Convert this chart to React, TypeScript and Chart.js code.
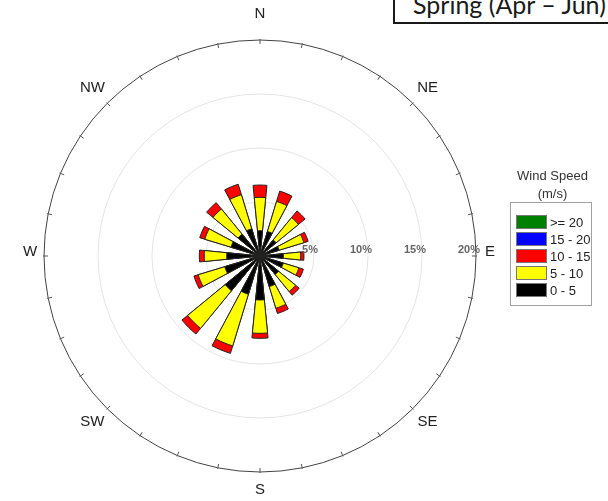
import React, { useEffect, useRef } from 'react';
import { Chart, registerables } from 'chart.js';

Chart.register(...registerables);

const directions = ['N', 'NNE', 'NE', 'ENE', 'E', 'ESE', 'SE', 'SSE', 'S', 'SSW', 'SW', 'WSW', 'W', 'WNW', 'NW', 'NNW'];
const speed0to5 = [2.34, 2.38, 1.93, 1.85, 2.16, 2.26, 2.22, 2.96, 4.07, 3.7, 4.17, 3.41, 3.08, 2.81, 2.62, 2.64];
const speed5to10 = [3.09, 2.9, 2.67, 2.39, 1.61, 1.5, 2.04, 2.1, 3.09, 5.0, 4.5, 2.57, 2.08, 2.53, 3.01, 3.29];
const speed10to15 = [1.14, 1.0, 0.8, 0.42, 0.3, 0.44, 0.43, 0.5, 0.46, 0.72, 0.68, 0.41, 0.46, 0.49, 0.76, 1.01];
const speed15to20 = [0, 0, 0, 0, 0, 0, 0, 0, 0, 0, 0, 0, 0, 0, 0, 0];
const speed20plus = [0, 0, 0, 0, 0, 0, 0, 0, 0, 0, 0, 0, 0, 0, 0, 0];
const speedBins = ['0 - 5', '5 - 10', '10 - 15', '15 - 20', '>= 20'];
const binColors = ['#000000', '#ffff00', '#ff0000', '#0000ff', '#008000'];
const ringTicks = [5, 10, 15, 20];
const compassLabels = ['N', 'NE', 'E', 'SE', 'S', 'SW', 'W', 'NW'];

const FONT = "'Liberation Sans', Arial, sans-serif";

const compassPlugin = {
  id: 'compass',
  afterDraw(chart: any) {
    const s = chart.scales.r;
    const ctx = chart.ctx;
    const cx = s.xCenter;
    const cy = s.yCenter;
    const R = s.getDistanceFromCenterForValue(ringTicks[ringTicks.length - 1]);
    ctx.save();
    // ticks on outer circle
    ctx.strokeStyle = '#555';
    ctx.lineWidth = 1;
    for (let i = 0; i < 32; i++) {
      const a = (i * 11.25 * Math.PI) / 180;
      const sx = Math.sin(a);
      const sy = -Math.cos(a);
      ctx.beginPath();
      ctx.moveTo(cx + sx * (R - 4), cy + sy * (R - 4));
      ctx.lineTo(cx + sx * (R + 1), cy + sy * (R + 1));
      ctx.stroke();
    }
    // compass labels
    ctx.fillStyle = '#222';
    ctx.font = `15px ${FONT}`;
    ctx.textAlign = 'center';
    ctx.textBaseline = 'middle';
    compassLabels.forEach((lab, i) => {
      const a = (i * 45 * Math.PI) / 180;
      const diag = i % 2 === 1;
      const rx = diag ? R + 21 : R + 14;
      const ry = diag ? R + 20 : R + 22;
      const oy = diag ? -1 : -4;
      const x = cx + Math.sin(a) * rx;
      const y = cy + oy - Math.cos(a) * ry;
      ctx.fillText(lab, x, y);
    });
    // ring labels
    ctx.fillStyle = '#666';
    ctx.font = `bold 11px ${FONT}`;
    ctx.textAlign = 'right';
    ctx.textBaseline = 'middle';
    ringTicks.forEach((t) => {
      const r = s.getDistanceFromCenterForValue(t);
      ctx.fillText(t + '%', cx + r + 4, cy - 6);
    });
    ctx.restore();
  },
};

export default function App() {
  const ref = useRef<HTMLCanvasElement | null>(null);

  useEffect(() => {
    document.body.style.margin = '0';
    const series = [speed0to5, speed5to10, speed10to15, speed15to20, speed20plus];
    const cumulative: number[][] = [];
    series.forEach((arr, k) => {
      cumulative.push(arr.map((v, i) => v + (k > 0 ? cumulative[k - 1][i] : 0)));
    });
    const labels = directions.flatMap((d) => [d, '']);
    const datasets = series
      .map((arr, k) => ({ arr, k }))
      .filter(({ arr }) => arr.some((v) => v > 0))
      .map(({ k }) => ({
        label: speedBins[k],
        data: cumulative[k].flatMap((v) => [v, 0]),
        backgroundColor: binColors[k],
        borderColor: '#222',
        borderWidth: (c: any) => (c.dataIndex % 2 === 0 ? 1 : 0),
        angle: 11.25,
      }));

    const chart = new Chart(ref.current as HTMLCanvasElement, {
      type: 'polarArea',
      data: { labels, datasets },
      options: {
        responsive: false,
        animation: false,
        layout: { padding: { left: 44, top: 40, right: 132, bottom: 29 } },
        plugins: { legend: { display: false }, tooltip: { enabled: false } },
        scales: {
          r: {
            min: 0,
            max: 20,
            startAngle: -5.625,
            ticks: { display: false, stepSize: 5 },
            pointLabels: { display: false },
            angleLines: { display: false },
            grid: {
              circular: true,
              color: (c: any) => (c.tick && c.tick.value === 20 ? '#444' : '#e4e4e4'),
              lineWidth: 1,
            },
          },
        },
      } as any,
      plugins: [compassPlugin],
    });
    return () => chart.destroy();
  }, []);

  const legendOrder = [4, 3, 2, 1, 0];

  return (
    <div style={{ position: 'fixed', left: 0, top: 0, width: 608, height: 501, background: '#fff', overflow: 'hidden' }}>
      <canvas ref={ref} width={608} height={501} style={{ position: 'absolute', left: 0, top: 0, width: 608, height: 501 }} />
      <div
        style={{
          position: 'absolute',
          left: 393,
          top: -13,
          width: 240,
          height: 37,
          border: '2px solid #1a1a1a',
          background: '#fff',
          boxSizing: 'border-box',
          overflow: 'hidden',
        }}
      >
        <div style={{ position: 'absolute', left: 18, top: 0, font: "25px Lato, 'Open Sans', sans-serif", color: '#1a1a1a', whiteSpace: 'nowrap', lineHeight: '30px' }}>
          Spring (Apr – Jun)
        </div>
      </div>
      <div style={{ position: 'absolute', left: 505, top: 167, width: 95, textAlign: 'center', font: `13px ${FONT}`, color: '#333', lineHeight: '18px' }}>
        <div>Wind Speed</div>
        <div>(m/s)</div>
      </div>
      <div
        style={{
          position: 'absolute',
          left: 510,
          top: 202,
          width: 82,
          height: 104,
          border: '1px solid #a0a0a0',
          boxSizing: 'border-box',
        }}
      >
        {legendOrder.map((k, j) => (
          <div key={k} style={{ position: 'absolute', left: 5, top: 12 + j * 17, height: 14, display: 'flex', alignItems: 'center' }}>
            <div style={{ width: 31, height: 14, background: binColors[k], border: '1px solid #777', boxSizing: 'border-box' }} />
            <div style={{ marginLeft: 3, font: `13px ${FONT}`, color: '#222', whiteSpace: 'nowrap' }}>{speedBins[k]}</div>
          </div>
        ))}
      </div>
    </div>
  );
}
